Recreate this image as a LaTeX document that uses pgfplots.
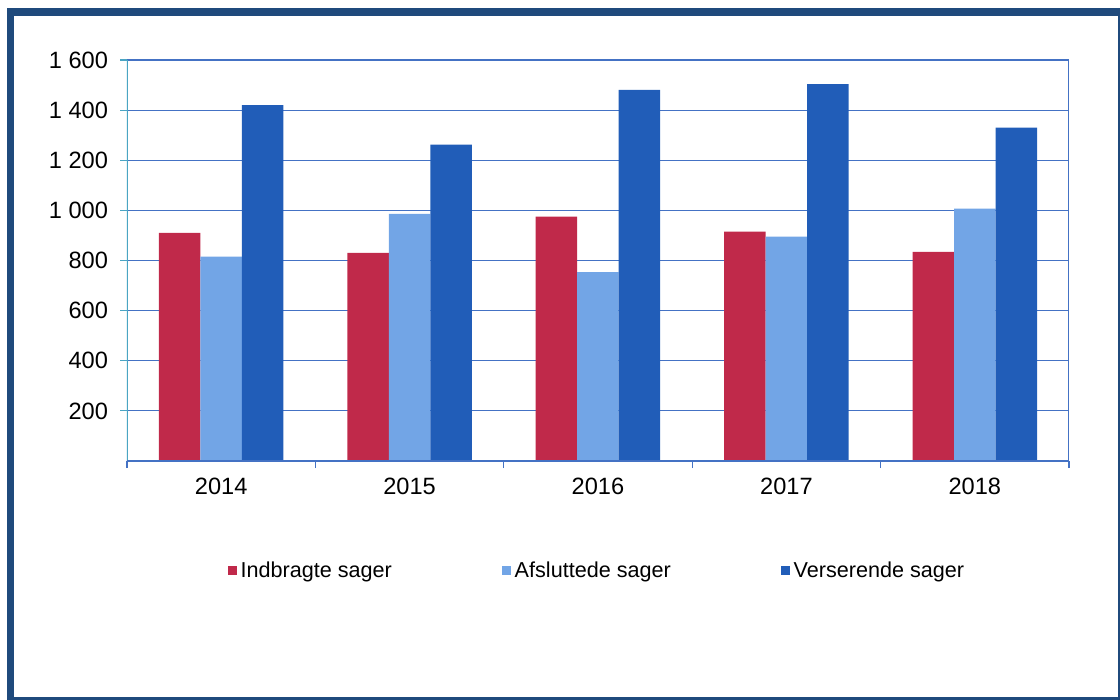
\documentclass[border=0pt]{standalone}
\usepackage{fontspec}
\setmainfont{Liberation Sans}
\usepackage{pgfplots}
\pgfplotsset{compat=1.18}
\definecolor{cred}{RGB}{192,41,74}
\definecolor{clight}{RGB}{114,165,230}
\definecolor{cdark}{RGB}{33,93,184}
\definecolor{gridblue}{RGB}{68,114,196}
\definecolor{tealc}{RGB}{75,165,195}
\definecolor{framec}{RGB}{31,74,124}
\begin{document}
\begin{tikzpicture}[x=1pt,y=1pt]
\useasboundingbox (0,0) rectangle (560,-350);
\draw[framec, line width=3.8pt] (5.25,-6) rectangle (561,-350.5);
\begin{axis}[
  at={(63.5pt,-230.5pt)}, anchor=south west,
  scale only axis, width=471pt, height=200.5pt,
  ymin=0, ymax=1600, xmin=-0.5, xmax=4.5,
  ybar=0pt, bar width=20.75pt,
  xtick={-0.5,0.5,1.5,2.5,3.5,4.5}, x tick label as interval,
  xticklabels={2014,2015,2016,2017,2018},
  ytick={200,400,...,1600},
  ymajorgrids, grid style={gridblue, line width=0.6pt},
  axis line style={draw=none},
  tick align=outside, major tick length=3.5pt,
  xtick pos=left, ytick pos=left,
  x tick style={gridblue, line width=0.6pt},
  y tick style={tealc, line width=0.6pt},
  tick label style={font=\fontsize{11.8}{13}\selectfont, text=black},
  yticklabel style={xshift=-2.5pt},
  xticklabel style={yshift=-1.5pt},
  /pgf/number format/assume math mode=true,
  /pgf/number format/1000 sep={\ },
  legend style={at={(0.5,-0.274)}, anchor=center, draw=none,
    font=\fontsize{10.8}{12}\selectfont,
    /tikz/every even column/.append style={column sep=53pt}},
  legend columns=3,
  legend image code/.code={\fill[#1] (0pt,-2.2pt) rectangle (4.4pt,2.2pt);},
]
\addplot[fill=cred, draw=none] coordinates {(0,910) (1,830) (2,975) (3,915) (4,834)};
\addplot[fill=clight, draw=none] coordinates {(0,815) (1,986) (2,754) (3,895) (4,1007)};
\addplot[fill=cdark, draw=none] coordinates {(0,1420) (1,1262) (2,1481) (3,1504) (4,1330)};
\legend{Indbragte sager, Afsluttede sager, Verserende sager}
\draw[tealc, line width=0.6pt] (-0.5,0) -- (-0.5,1600);
\draw[gridblue, line width=0.6pt] (-0.5,0) -- (4.5,0);
\draw[gridblue, line width=0.6pt] (4.5,0) -- (4.5,1600);
\end{axis}
\end{tikzpicture}
\end{document}
